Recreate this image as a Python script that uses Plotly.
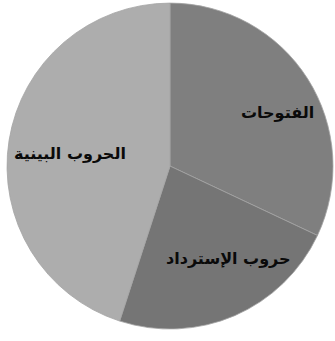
import math
import plotly.graph_objects as go

# Share of each category of war
labels = ["الفتوحات", "حروب الإسترداد", "الحروب البينية"]
values = [32, 23, 45]
colors = ["#7f7f7f", "#757575", "#adadad"]

W, H = 335, 341
dom_x = [0.021, 0.994]
dom_y = [0.035, 0.991]
# how far out along each slice's bisector its label sits (fraction of radius)
label_r = [0.74, 0.70, 0.62]
# small pixel nudges for each label (x right, y up)
label_shift = [(6, -11), (13, 12), (0, -3)]

fig = go.Figure(
    go.Pie(
        labels=labels,
        values=values,
        sort=False,
        direction="clockwise",
        rotation=0,
        textinfo="none",
        marker=dict(colors=colors, line=dict(color="#a3a3a3", width=0.8)),
        domain=dict(x=dom_x, y=dom_y),
        hoverinfo="label+percent",
    )
)

# place labels on slice bisectors, computed from the values
cx = (dom_x[0] + dom_x[1]) / 2 * W
cy = (dom_y[0] + dom_y[1]) / 2 * H
R = min((dom_x[1] - dom_x[0]) * W, (dom_y[1] - dom_y[0]) * H) / 2
total = sum(values)
cum = 0
for lab, v, rf, (sx, sy) in zip(labels, values, label_r, label_shift):
    mid = (cum + v / 2) / total * 2 * math.pi
    cum += v
    px = cx + rf * R * math.sin(mid)
    py = cy + rf * R * math.cos(mid)
    fig.add_annotation(
        x=px / W, y=py / H, xref="paper", yref="paper",
        xshift=sx, yshift=sy,
        text=f"<b>{lab}</b>", showarrow=False,
        font=dict(family="DejaVu Sans", size=16, color="#0a0a0a"),
        xanchor="center", yanchor="middle",
    )

fig.update_layout(
    width=W,
    height=H,
    margin=dict(l=0, r=0, t=0, b=0),
    showlegend=False,
    paper_bgcolor="white",
    plot_bgcolor="white",
)

fig.write_html("out.html")
